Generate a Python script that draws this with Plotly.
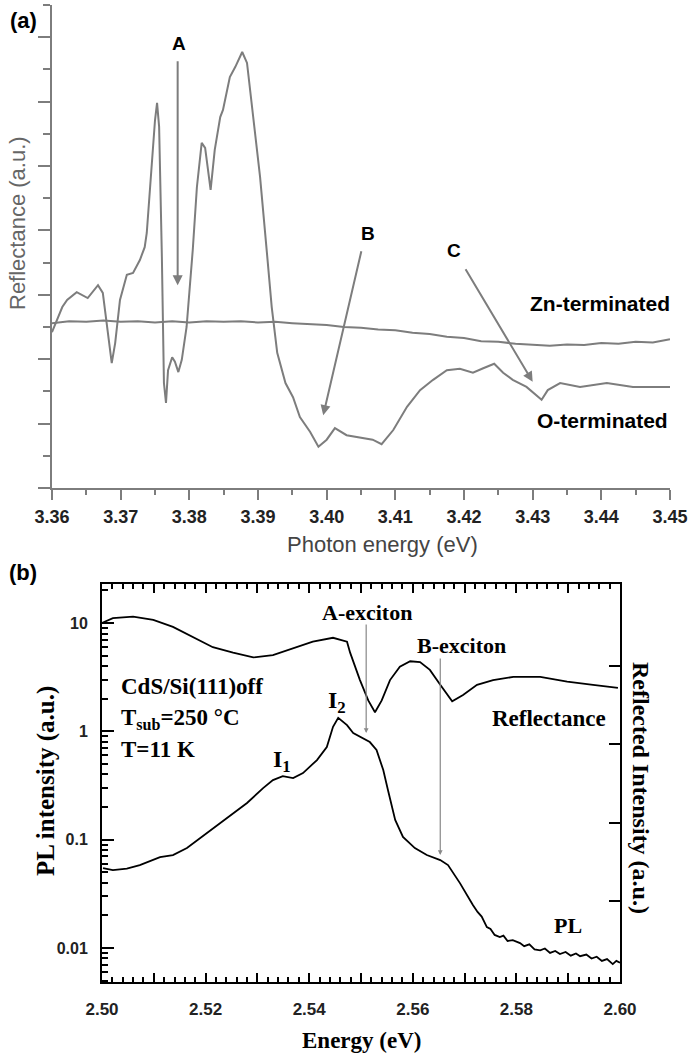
import plotly.graph_objects as go

# ---------------- Panel (a) data ----------------
o_energy = [3.3600,3.3615,3.3622,3.3636,3.3652,3.3667,3.3674,3.3682,3.3687,3.3692,3.3699,3.3709,3.3718,3.3728,
            3.3735,3.3738,3.3745,3.3750,3.3753,3.3756,3.3760,3.3763,3.3766,3.3769,3.3775,3.3779,3.3784,3.3789,
            3.3796,3.3801,3.3805,3.3811,3.3818,3.3823,3.3831,3.3837,3.3845,3.3849,3.3859,3.3867,3.3877,3.3884,
            3.3893,3.3903,3.3913,3.3920,3.3928,3.3940,3.3951,3.3961,3.3976,3.3988,3.4000,3.4012,3.4029,3.4049,
            3.4067,3.4080,3.4097,3.4117,3.4136,3.4155,3.4175,3.4194,3.4213,3.4228,3.4244,3.4257,3.4271,3.4291,
            3.4313,3.4322,3.4340,3.4369,3.4408,3.4446,3.4500]
o_refl = [2.42,2.81,2.92,3.04,2.95,3.15,3.03,2.41,1.94,2.25,2.92,3.31,3.34,3.54,
          3.74,3.96,4.98,5.71,5.98,5.61,3.59,1.63,1.32,1.83,2.03,1.96,1.80,1.99,
          2.50,3.18,3.70,4.67,5.36,5.28,4.63,5.25,5.76,5.87,6.38,6.54,6.77,6.60,
          5.76,4.83,3.65,2.81,2.10,1.63,1.41,1.10,0.87,0.64,0.75,0.93,0.82,0.78,
          0.75,0.68,0.90,1.26,1.52,1.68,1.83,1.85,1.79,1.86,1.93,1.79,1.68,1.57,
          1.37,1.52,1.63,1.57,1.63,1.57,1.57]

zn_energy = [3.3600,3.3625,3.3650,3.3675,3.3700,3.3725,3.3750,3.3775,3.3800,3.3825,3.3850,3.3875,3.3900,
             3.3925,3.3950,3.3975,3.4000,3.4025,3.4050,3.4075,3.4100,3.4125,3.4150,3.4175,3.4200,3.4225,
             3.4250,3.4275,3.4300,3.4325,3.4350,3.4375,3.4400,3.4425,3.4450,3.4475,3.4500]
zn_refl = [2.56,2.59,2.58,2.60,2.58,2.59,2.57,2.59,2.57,2.59,2.58,2.59,2.57,
           2.58,2.56,2.55,2.53,2.50,2.49,2.46,2.45,2.41,2.39,2.35,2.33,2.28,
           2.27,2.24,2.23,2.21,2.23,2.22,2.25,2.24,2.27,2.26,2.31]

a_xticks = [3.36,3.37,3.38,3.39,3.40,3.41,3.42,3.43,3.44,3.45]
a_xticklabels = ["3.36","3.37","3.38","3.39","3.40","3.41","3.42","3.43","3.44","3.45"]

# ---------------- Panel (b) data ----------------
r_energy = [2.5000,2.5021,2.5060,2.5099,2.5137,2.5176,2.5214,2.5253,2.5292,2.5330,2.5369,2.5407,2.5446,
            2.5473,2.5479,2.5498,2.5514,2.5527,2.5540,2.5556,2.5575,2.5595,2.5614,2.5633,2.5653,2.5676,
            2.5697,2.5724,2.5755,2.5794,2.5846,2.5898,2.5948,2.5996]
r_int = [4.55,4.61,4.63,4.59,4.50,4.37,4.24,4.17,4.11,4.14,4.23,4.31,4.36,
         4.31,4.17,3.82,3.56,3.41,3.56,3.82,3.99,4.06,4.05,3.95,3.76,3.55,
         3.63,3.76,3.82,3.86,3.86,3.80,3.76,3.72]

pl_energy = [2.5002,2.5021,2.5048,2.5073,2.5112,2.5137,2.5164,2.5203,2.5241,2.5280,2.5311,2.5330,2.5349,
             2.5369,2.5388,2.5415,2.5434,2.5446,2.5456,2.5473,2.5485,2.5504,2.5517,2.5530,2.5543,2.5552,
             2.5566,2.5581,2.5604,2.5627,2.5653,2.5668,2.5691,2.5716,2.5725,2.5733,2.5743,2.5750,2.5758,
             2.5768,2.5775,2.5783,2.5793,2.5807,2.5815,2.5825,2.5835,2.5846,2.5855,2.5865,2.5875,2.5884,
             2.5895,2.5905,2.5915,2.5923,2.5935,2.5945,2.5955,2.5965,2.5975,2.5986,2.5993,2.6000]
pl_int = [0.0547,0.0524,0.0540,0.0582,0.069,0.0721,0.0836,0.115,0.158,0.218,0.299,0.355,0.386,
          0.370,0.412,0.543,0.716,1.10,1.33,1.14,0.964,0.867,0.796,0.672,0.439,0.287,
          0.152,0.106,0.0836,0.0721,0.0648,0.0582,0.0397,0.0249,0.0215,0.0195,0.0156,0.0150,0.0132,
          0.0126,0.0130,0.0116,0.0118,0.0111,0.0104,0.0108,0.0097,0.0095,0.0099,0.0090,0.0094,0.0088,
          0.0092,0.0085,0.0089,0.0084,0.0087,0.0080,0.0083,0.0076,0.0079,0.0071,0.0076,0.0073]

b_xticks = [2.50,2.51,2.52,2.53,2.54,2.55,2.56,2.57,2.58,2.59,2.60]
b_xticklabels = ["2.50","","2.52","","2.54","","2.56","","2.58","","2.60"]
b_yticks = [0.01,0.1,1,10]
b_yticklabels = ["0.01","0.1","1","10"]
r_ticks = [1,2,3,4]

W, H = 689, 1059
def px(x):
    return x / W
def py(y):
    return 1 - y / H

GRAY = "#7d7d7d"
SERIF = "Liberation Serif"
SANS = "Liberation Sans"

fig = go.Figure()
fig.add_trace(go.Scatter(x=o_energy, y=o_refl, mode="lines", line=dict(color=GRAY, width=2),
                         xaxis="x", yaxis="y", showlegend=False))
fig.add_trace(go.Scatter(x=zn_energy, y=zn_refl, mode="lines", line=dict(color=GRAY, width=2),
                         xaxis="x", yaxis="y", showlegend=False))
fig.add_trace(go.Scatter(x=pl_energy, y=pl_int, mode="lines", line=dict(color="black", width=1.8),
                         xaxis="x2", yaxis="y2", showlegend=False))
fig.add_trace(go.Scatter(x=r_energy, y=r_int, mode="lines", line=dict(color="black", width=1.8),
                         xaxis="x2", yaxis="y3", showlegend=False))

fig.update_layout(
    width=W, height=H, margin=dict(l=0, r=0, t=0, b=0, pad=0), autosize=False,
    paper_bgcolor="white", plot_bgcolor="white",
    xaxis=dict(domain=[px(52), px(670)], range=[3.36, 3.45], anchor="y", automargin=False,
               tickvals=a_xticks, ticktext=a_xticklabels, ticklabelstandoff=1,
               showline=True, linecolor=GRAY, linewidth=2, ticks="outside", ticklen=10, tickwidth=2,
               tickcolor=GRAY, minor=dict(dtick=0.005, ticks="outside", ticklen=5, tickwidth=2, tickcolor=GRAY),
               showgrid=False, zeroline=False,
               tickfont=dict(family=SANS, size=18, color="#222", weight="bold")),
    yaxis=dict(domain=[py(488), py(5)], range=[0, 7.5], anchor="x", automargin=False,
               dtick=1, showticklabels=False,
               showline=True, linecolor=GRAY, linewidth=2, ticks="outside", ticklen=12, tickwidth=2,
               tickcolor=GRAY, minor=dict(dtick=0.5, ticks="outside", ticklen=7, tickwidth=2, tickcolor=GRAY),
               showgrid=False, zeroline=False),
    xaxis2=dict(domain=[px(102), px(620)], range=[2.50, 2.60], anchor="y2", automargin=False,
                tickvals=b_xticks, ticktext=b_xticklabels, ticklabelstandoff=11,
                showline=True, linecolor="black", linewidth=2, mirror="ticks",
                ticks="inside", ticklen=9, tickwidth=2, tickcolor="black",
                minor=dict(dtick=0.002, ticks="inside", ticklen=5, tickwidth=1.5, tickcolor="black"),
                showgrid=False, zeroline=False,
                tickfont=dict(family=SANS, size=17, color="#222", weight="bold")),
    yaxis2=dict(domain=[py(982), py(584)], type="log", range=[-2.314, 1.36], anchor="x2", automargin=False,
                tickvals=b_yticks, ticktext=b_yticklabels, ticklabelstandoff=9,
                showline=True, linecolor="black", linewidth=2,
                ticks="inside", ticklen=12, tickwidth=2, tickcolor="black",
                minor=dict(dtick="D1", ticks="inside", ticklen=6, tickwidth=1.5, tickcolor="black"),
                showgrid=False, zeroline=False,
                tickfont=dict(family=SANS, size=16, color="#222", weight="bold")),
    yaxis3=dict(domain=[py(982), py(584)], range=[-0.036, 5.047], anchor="x2", overlaying="y2",
                side="right", tickvals=r_ticks, showticklabels=False, automargin=False,
                showline=True, linecolor="black", linewidth=2,
                ticks="inside", ticklen=11, tickwidth=2, tickcolor="black",
                showgrid=False, zeroline=False),
)

ann = []
def txt(x, y, text, size, family=SANS, color="black", bold=True, xanchor="center", angle=0):
    ann.append(dict(x=px(x), y=py(y), xref="paper", yref="paper", text=text, showarrow=False,
                    xanchor=xanchor, yanchor="middle", textangle=angle,
                    font=dict(family=family, size=size, color=color, weight="bold" if bold else "normal")))

# panel (a) labels
txt(23, 20, "(a)", 22)
txt(179, 44, "A", 19)
txt(368, 233, "B", 19)
txt(454, 250, "C", 19)
txt(672, 303, "Zn-terminated", 21, xanchor="right")
txt(670, 420, "O-terminated", 21, xanchor="right")
txt(17, 223, "Reflectance (a.u.)", 22, color="#666", bold=False, angle=-90)
txt(382, 544, "Photon energy (eV)", 22, color="#444", bold=False)

# panel (a) arrows
def arrow(x, y, ax, ay, xr, yr, color, width, size=1.0):
    ann.append(dict(x=x, y=y, ax=ax, ay=ay, xref=xr, yref=yr, axref=xr, ayref=yr, text="",
                    showarrow=True, arrowhead=2, arrowsize=size, arrowwidth=width, arrowcolor=color))

arrow(3.3783, 3.15, 3.3783, 6.65, "x", "y", GRAY, 2)
arrow(3.3995, 1.13, 3.4051, 3.70, "x", "y", GRAY, 2)
arrow(3.4300, 1.65, 3.4201, 3.42, "x", "y", GRAY, 2)

# panel (b) labels
txt(23, 572, "(b)", 22)
txt(367, 612, "A-exciton", 22, family=SERIF)
txt(462, 645, "B-exciton", 22, family=SERIF)
txt(549, 718, "Reflectance", 23, family=SERIF)
txt(568, 925, "PL", 22, family=SERIF)
txt(119, 686, "CdS/Si(111)off", 23, family=SERIF, xanchor="left")
txt(119, 719, "T<sub>sub</sub>=250 °C", 23, family=SERIF, xanchor="left")
txt(119, 749, "T=11 K", 23, family=SERIF, xanchor="left")
txt(282, 761, "I<sub>1</sub>", 24, family=SERIF)
txt(337, 702, "I<sub>2</sub>", 24, family=SERIF)
txt(46, 781, "PL intensity (a.u.)", 25, family=SERIF, angle=-90)
txt(641, 788, "Reflected Intensity (a.u.)", 24, family=SERIF, angle=90)
txt(361, 1040, "Energy (eV)", 23, family=SERIF)

# panel (b) arrows (log axis uses log10 coordinates)
arrow(2.551, -0.016, 2.551, 1.0, "x2", "y2", "#888", 1.2, 0.8)
arrow(2.5653, -1.142, 2.5653, 0.686, "x2", "y2", "#888", 1.2, 0.8)

fig.update_layout(annotations=ann)
fig.write_html("out.html")
